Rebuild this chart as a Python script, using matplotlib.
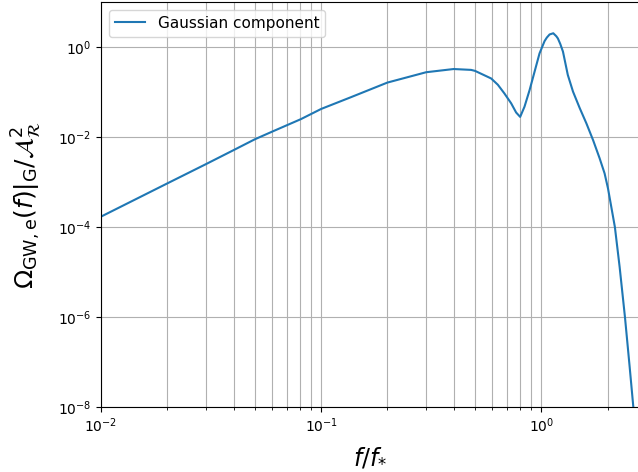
import numpy as np
import matplotlib
matplotlib.use('Agg')
import matplotlib.pyplot as plt

# Frequency f/f_* and Omega_GW,e(f)|_G / A_R^2
f_vals = [0.01, 0.02, 0.03, 0.04, 0.05, 0.06, 0.081, 0.1, 0.136, 0.2, 0.3,
          0.4, 0.48, 0.5, 0.592, 0.635, 0.68, 0.73, 0.769, 0.802, 0.839,
          0.885, 0.932, 0.982, 1.035, 1.06, 1.091, 1.134, 1.17, 1.19, 1.22,
          1.255, 1.32, 1.394, 1.495, 1.604, 1.72, 1.84, 1.94, 2.01, 2.16,
          2.27, 2.40, 2.52, 2.62, 2.70, 2.80]
omega_vals = [1.70e-4, 9.3e-4, 2.5e-3, 5.1e-3, 8.9e-3, 1.32e-2, 2.5e-2,
              4.2e-2, 7.6e-2, 0.162, 0.275, 0.324, 0.31, 0.295, 0.20, 0.145,
              0.093, 0.056, 0.035, 0.028, 0.047, 0.11, 0.28, 0.72, 1.35, 1.62,
              1.9, 2.02, 1.74, 1.55, 1.17, 0.79, 0.24, 0.102, 0.044, 0.020,
              8.5e-3, 3.4e-3, 1.55e-3, 7.2e-4, 1.0e-4, 1.3e-5, 1.0e-6, 8e-8,
              1e-8, 3e-10, 1e-12]

fig = plt.figure(figsize=(6.38, 4.72), dpi=100)
ax = fig.add_axes([101 / 638, 65 / 472, 538 / 638, 405 / 472])

ax.plot(f_vals, omega_vals, color='#1f77b4', lw=1.5, label='Gaussian component')
ax.set_xscale('log')
ax.set_yscale('log')
ax.set_xlim(1e-2, 2.78)
ax.set_ylim(1e-8, 1e1)

ax.grid(True, which='major', color='#b0b0b0', lw=0.8)
ax.xaxis.grid(True, which='minor', color='#b0b0b0', lw=0.8)

ax.set_xlabel(r'$f/f_{*}$', fontsize=17, labelpad=7)
ax.set_ylabel(r'$\Omega_{\rm GW,e}(f)|_{\rm G}/\mathcal{A}_{\mathcal{R}}^2$',
              fontsize=18, labelpad=10)
ax.legend(loc='upper left', fontsize=11)

fig.savefig('out.png', dpi=100)
